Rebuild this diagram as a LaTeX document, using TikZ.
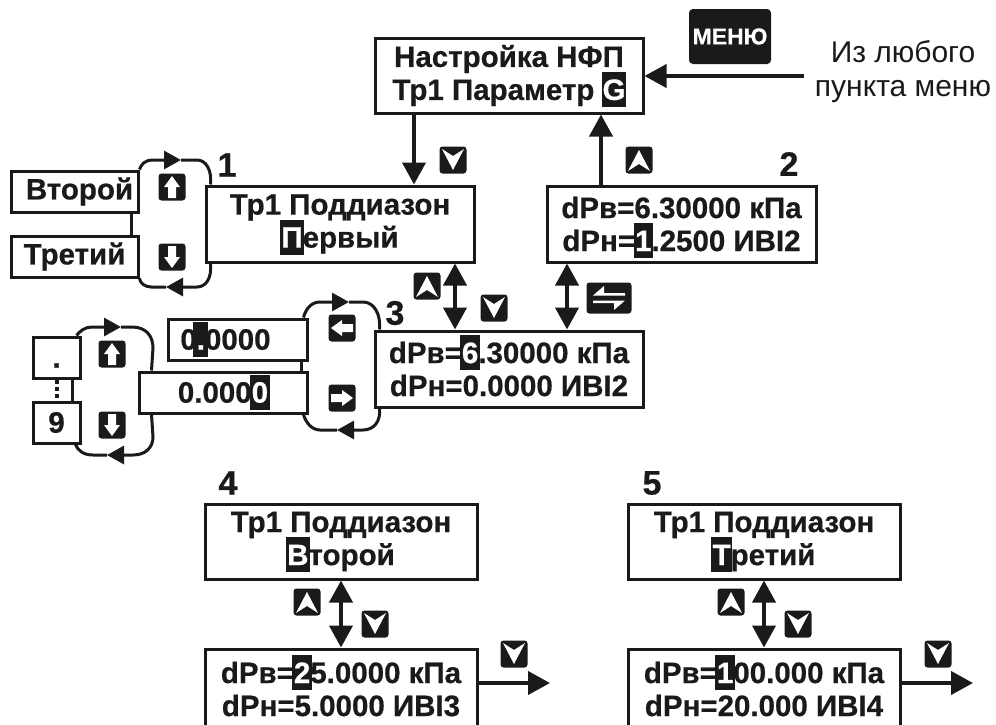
\documentclass[tikz,border=0pt]{standalone}
\usepackage{fontspec}
\setmainfont[BoldFeatures={FakeBold=0.6}]{Liberation Sans}
\usetikzlibrary{arrows.meta}
\definecolor{ink}{HTML}{1A1A1A}
\newcommand{\revch}[2][3pt]{\leavevmode\setbox0=\hbox{#2}\dimen0=\wd0\advance\dimen0 by #1\rlap{\kern-.5\dimexpr#1\relax\smash{\rule[-7pt]{\dimen0}{35pt}}}\textcolor{white}{\box0}}
\tikzset{
  lcd/.style={draw=ink,line width=3pt,inner sep=0pt,align=center,text=ink,
    font=\fontsize{29.5}{33}\selectfont\bfseries},
  itembox/.style={lcd,fill=white},
  numlabel/.style={inner sep=0pt,text=ink,font=\fontsize{34}{34}\selectfont\bfseries},
  plainlabel/.style={inner sep=0pt,align=center,text=ink,font=\fontsize{30}{34}\selectfont},
  arrowline/.style={draw=ink,line width=4pt,-{Triangle[length=22pt,width=23pt]}},
  bothline/.style={draw=ink,line width=4pt,{Triangle[length=22pt,width=23pt]}-{Triangle[length=22pt,width=23pt]}},
  loopline/.style={draw=ink,line width=3pt},
  looparrow/.style={loopline,-{Triangle[length=17pt,width=18pt]}},
  chevkey/.pic={
    \fill[ink,rounded corners=3pt] (-13.5,-13.5) rectangle (13.5,13.5);
    \fill[white] (0,-10) -- (11,11) -- (0,4) -- (-11,11) -- cycle;
  },
  blockkey/.pic={
    \fill[ink,rounded corners=3pt] (-13.5,-13.5) rectangle (13.5,13.5);
    \fill[white] (0,-11) -- (8,0) -- (4,0) -- (4,11) -- (-4,11) -- (-4,0) -- (-8,0) -- cycle;
  },
  swapkey/.pic={
    \fill[ink,rounded corners=3pt] (-22.5,-15.5) rectangle (22.5,15.5);
    \fill[white] (-16,-2.5) -- (-5,-12) -- (-5,-5) -- (16,-5) -- (16,-2.5) -- cycle;
    \fill[white] (16,2.5) -- (5,12) -- (5,5) -- (-16,5) -- (-16,2.5) -- cycle;
  }
}
\begin{document}
\begin{tikzpicture}[x=1pt,y=-1pt]
\path[use as bounding box,clip] (0,0) rectangle (996,724);

\node[lcd,minimum width=268pt,minimum height=75pt] (lcdtop) at (509,75.5) {Настройка НФП\\Тр1 Параметр \revch[1pt]{G}};
\node[lcd,minimum width=268pt,minimum height=76pt] (lcda) at (340,224) {Тр1 Поддиазон\\\revch{П}ервый};
\node[lcd,minimum width=269pt,minimum height=76pt] (lcdb) at (681.5,224) {dPв=6.30000 кПа\\dPн=\revch{1}.2500 ИВI2};
\node[lcd,minimum width=268pt,minimum height=76pt] (lcdc) at (509,369) {dPв=\revch{6}.30000 кПа\\dPн=0.0000 ИВI2};
\node[lcd,minimum width=272pt,minimum height=75pt] (lcdd) at (341,541.5) {Тр1 Поддиазон\\\revch{В}торой};
\node[lcd,minimum width=272pt,minimum height=80pt] (lcde) at (341,689) {dPв=\revch{2}5.0000 кПа\\dPн=5.0000 ИВI3};
\node[lcd,minimum width=272pt,minimum height=75pt] (lcdf) at (764,541.5) {Тр1 Поддиазон\\\revch{Т}ретий};
\node[lcd,minimum width=272pt,minimum height=80pt] (lcdg) at (764,689) {dPв=\revch{1}00.000 кПа\\dPн=20.000 ИВI4};

\node[numlabel] (numa) at (227,165) {1};
\node[numlabel] (numb) at (789,164) {2};
\node[numlabel] (numc) at (395,313) {3};
\node[numlabel] (numd) at (228,483) {4};
\node[numlabel] (nume) at (652,483) {5};

\node[draw=none,fill=ink,rounded corners=4pt,minimum width=82pt,minimum height=55pt,inner sep=0pt,text=white,
  font=\fontsize{23}{23}\selectfont\bfseries] (menu) at (730,36.5) {МЕНЮ};
\node[plainlabel] (anyitem) at (903,72) {Из любого\\пункта меню};
\coordinate (fromany) at (804,76);
\draw[arrowline] (fromany) to (lcdtop.east |- fromany);

\coordinate (xdown) at (414,0);
\coordinate (xup) at (601,0);
\coordinate (xac) at (455,0);
\coordinate (xbc) at (567,0);
\draw[arrowline] (lcdtop.south -| xdown) to (lcda.north -| xdown);
\draw[arrowline] (lcdb.north -| xup) to (lcdtop.south -| xup);
\draw[bothline] (lcda.south -| xac) to (lcdc.north -| xac);
\draw[bothline] (lcdb.south -| xbc) to (lcdc.north -| xbc);
\draw[bothline] (lcdd.south) to (lcde.north);
\draw[bothline] (lcdf.south) to (lcdg.north);
\coordinate (oute) at (550,683);
\coordinate (outg) at (973,683);
\draw[arrowline] (lcde.east |- oute) to (oute);
\draw[arrowline] (lcdg.east |- outg) to (outg);

\pic[rotate=180] (keydown) at (453,160) {chevkey};
\pic (keyup) at (639,160) {chevkey};
\pic (keyac) at (427,286) {chevkey};
\pic[rotate=180] (keyca) at (494,308) {chevkey};
\pic (keybc) at (609,298) {swapkey};
\pic (keyde) at (307,602) {chevkey};
\pic[rotate=180] (keyed) at (375,624) {chevkey};
\pic[rotate=180] (keyeout) at (514,654) {chevkey};
\pic (keyfg) at (731,602) {chevkey};
\pic[rotate=180] (keygf) at (798,624) {chevkey};
\pic[rotate=180] (keygout) at (938,654) {chevkey};

\node[itembox,minimum width=127pt,minimum height=41pt] (second) at (74.5,191.5) {\hspace*{10pt}Второй};
\node[itembox,minimum width=127pt,minimum height=41pt] (third) at (74.5,256.5) {Третий};
\draw[draw=ink,line width=3pt] (second.south -| 131,0) to (third.north -| 131,0);
\draw[looparrow] (second.north east) .. controls (141,164) and (146,160) .. (152,160) to (181,160);
\draw[loopline] (181,160) to (197,160) .. controls (206,160) and (212,170) .. ([xshift=6pt]lcda.north west);
\draw[looparrow] ([xshift=6pt]lcda.south west) .. controls (212,278) and (206,287) .. (197,287) to (166,287);
\draw[loopline] (166,287) to (151,287) .. controls (145,287) and (140,283) .. (third.south east);
\pic (keysecond) at (172,187) {blockkey};
\pic[rotate=180] (keythird) at (172,257) {blockkey};

\node[itembox,minimum width=139pt,minimum height=41pt] (posfirst) at (237.5,339.5) {0\revch[7pt]{.}0000\hspace*{24pt}};
\node[itembox,minimum width=168pt,minimum height=41pt] (poslast) at (223,392.5) {0.000\revch{0}};
\draw[draw=ink,line width=3pt] (posfirst.south -| 301,0) to (poslast.north -| 301,0);
\draw[looparrow] ([xshift=-5pt]posfirst.north east) .. controls (306,308) and (312,302) .. (320,302) to (349,302);
\draw[loopline] (349,302) to (363,302) .. controls (374,302) and (381,314) .. ([xshift=6pt]lcdc.north west);
\draw[looparrow] ([xshift=6pt]lcdc.south west) .. controls (381,421) and (374,430) .. (363,430) to (337,430);
\draw[loopline] (337,430) to (320,430) .. controls (312,430) and (306,423) .. ([xshift=-5pt]poslast.south east);
\pic[rotate=90] (keyleft) at (342,328) {blockkey};
\pic[rotate=-90] (keyright) at (342,398) {blockkey};

\node[itembox,minimum width=47pt,minimum height=41pt] (chardot) at (56.5,357.5) {\vphantom{9}.};
\node[itembox,minimum width=47pt,minimum height=41pt] (charnine) at (56.5,422.5) {9};
\draw[draw=ink,line width=3pt] (chardot.south -| 72,0) to (charnine.north -| 72,0);
\draw[draw=ink,line width=4pt,dash pattern=on 4pt off 3pt] (chardot.south) to (charnine.north);
\draw[looparrow] ([xshift=-5pt]chardot.north east) .. controls (80,331) and (85,327) .. (92,327) to (121,327);
\draw[loopline] (121,327) to (132,327) .. controls (146,327) and (153,336) .. (153,348) to ([xshift=14pt]poslast.north west);
\draw[looparrow] ([xshift=14pt]poslast.south west) to (153,437) .. controls (153,447) and (146,455) .. (133,455) to (107,455);
\draw[loopline] (107,455) to (93,455) .. controls (84,455) and (78,451) .. ([xshift=-6pt]charnine.south east);
\pic (keyinc) at (112,354) {blockkey};
\pic[rotate=180] (keydec) at (112,425) {blockkey};
\end{tikzpicture}
\end{document}
